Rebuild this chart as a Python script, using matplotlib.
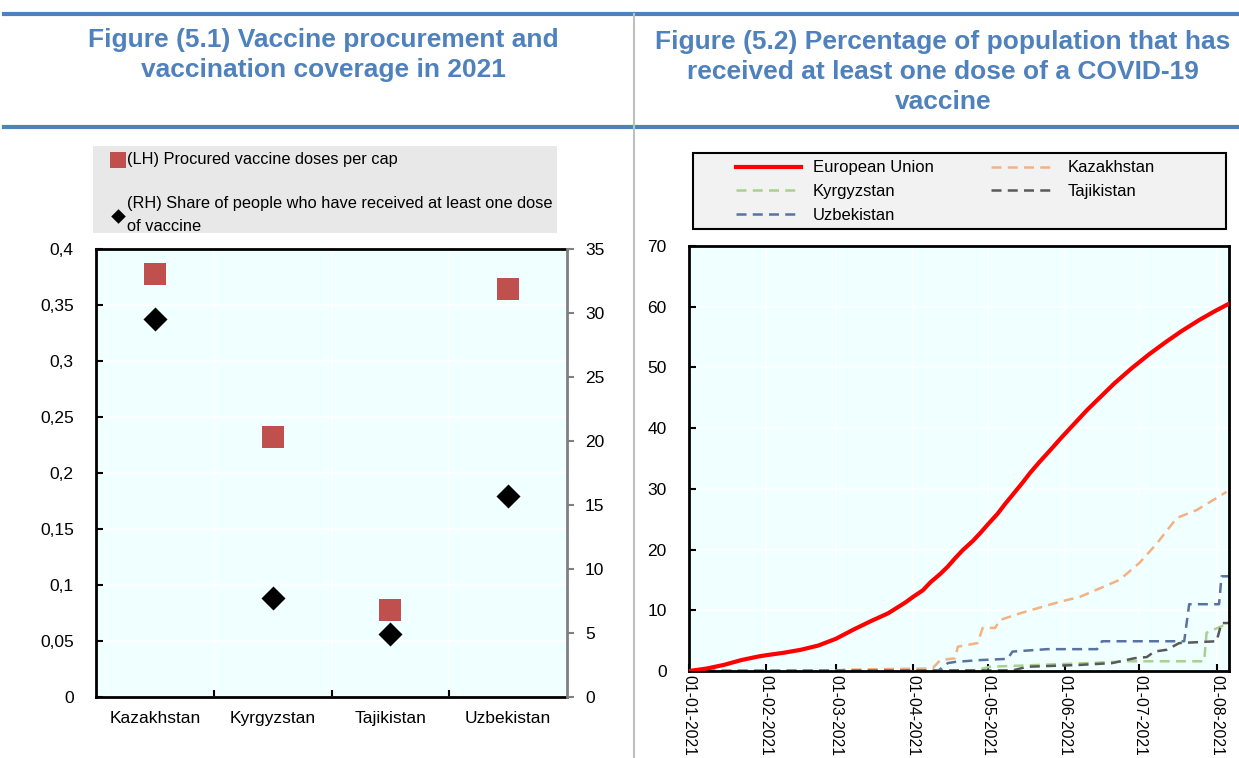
import matplotlib
matplotlib.use("Agg")
import matplotlib.pyplot as plt
import matplotlib.dates as mdates
from matplotlib.lines import Line2D
from matplotlib.patches import Rectangle
import numpy as np
import pandas as pd

# ---------------- data: Figure 5.1 ----------------
countries = ["Kazakhstan", "Kyrgyzstan", "Tajikistan", "Uzbekistan"]
doses_per_cap = [0.378, 0.232, 0.078, 0.364]          # left axis
share_one_dose = [29.5, 7.7, 4.9, 15.7]               # right axis
left_ticks = [0, 0.05, 0.1, 0.15, 0.2, 0.25, 0.3, 0.35, 0.4]
left_tick_labels = ["0", "0,05", "0,1", "0,15", "0,2", "0,25", "0,3", "0,35", "0,4"]
right_ticks = [0, 5, 10, 15, 20, 25, 30, 35]

# ---------------- data: Figure 5.2 (days since 01-01-2021, % of population) ----------------
eu_days = [0, 7, 14, 21, 28, 31, 38, 45, 52, 59, 66, 73, 80, 87, 90, 94, 97, 101, 104, 107, 110, 114,
           117, 120, 124, 127, 130, 134, 137, 141, 145, 150, 155, 160, 165, 171, 178, 185, 192, 198,
           205, 211, 217]
eu_vals = [0, 0.4, 1.0, 1.8, 2.4, 2.6, 3.0, 3.5, 4.2, 5.3, 6.8, 8.2, 9.5, 11.3, 12.2, 13.3, 14.6,
           16.0, 17.2, 18.6, 19.9, 21.4, 22.7, 24.1, 25.9, 27.5, 29.0, 31.0, 32.6, 34.5, 36.3, 38.6,
           40.8, 43.0, 45.0, 47.4, 49.9, 52.2, 54.3, 56.0, 57.8, 59.2, 60.5]

kaz_days = [0, 58, 62, 75, 95, 98, 101, 107, 108, 116, 118, 123, 125, 133, 149, 157, 173, 181, 188, 196, 204, 216]
kaz_vals = [0, 0, 0.2, 0.3, 0.4, 0.5, 1.8, 2.1, 4.0, 4.6, 7.1, 7.1, 8.4, 9.5, 11.4, 12.2, 15.0, 17.8, 21.0, 25.2, 26.5, 29.5]

kgz_days = [0, 115, 121, 160, 176, 207, 208, 217]
kgz_vals = [0, 0.1, 0.7, 1.3, 1.6, 1.6, 6.3, 7.9]

tjk_days = [0, 130, 136, 157, 170, 179, 184, 187, 192, 197, 212, 214, 217]
tjk_vals = [0, 0.1, 0.7, 1.0, 1.3, 2.1, 2.3, 3.2, 3.5, 4.6, 4.9, 7.9, 7.9]

uzb_days = [0, 100, 104, 107, 117, 128, 130, 144, 164, 166, 199, 201, 213, 214, 217]
uzb_vals = [0, 0, 1.3, 1.5, 1.8, 2.0, 3.2, 3.6, 3.6, 4.9, 4.9, 11.0, 11.0, 15.6, 15.6]

start = pd.Timestamp("2021-01-01")
def to_dates(days):
    return start + pd.to_timedelta(days, unit="D")

month_ticks = pd.date_range("2021-01-01", "2021-08-01", freq="MS")

# ---------------- figure ----------------
W, H = 1239, 758
fig = plt.figure(figsize=(W / 100, H / 100), dpi=100)
fig.patch.set_facecolor("white")

BLUE = "#4F81BD"
BG = "#F0FFFF"
FONT = ["Liberation Sans", "DejaVu Sans"]
plt.rcParams["font.family"] = FONT

def fx(px):
    return px / W

def fy(py):
    return 1 - py / H

# header lines and divider
fig.add_artist(Line2D([fx(4), 1], [fy(14), fy(14)], color=BLUE, lw=3, transform=fig.transFigure))
fig.add_artist(Line2D([fx(4), 1], [fy(127), fy(127)], color=BLUE, lw=3, transform=fig.transFigure))
fig.add_artist(Line2D([fx(634), fx(634)], [fy(14), 0], color="#BFBFBF", lw=1.5, transform=fig.transFigure))

fig.text(fx(323), fy(55), "Figure (5.1) Vaccine procurement and\nvaccination coverage in 2021",
         ha="center", va="center", color=BLUE, fontsize=19, fontweight="bold", linespacing=1.33)
fig.text(fx(943), fy(72), "Figure (5.2) Percentage of population that has\nreceived at least one dose of a COVID-19\nvaccine",
         ha="center", va="center", color=BLUE, fontsize=19, fontweight="bold", linespacing=1.33)

TICK_FS = 12.5

# ---------------- left chart ----------------
axL = fig.add_axes([fx(96), fy(697), fx(567) - fx(96), fy(249) - fy(697)])
axL.set_facecolor(BG)
x = np.arange(len(countries))
axL.set_xlim(-0.5, len(countries) - 0.5)
axL.set_ylim(0, 0.4)
axL.set_yticks(left_ticks)
axL.set_yticklabels(left_tick_labels)
axL.set_xticks(x)
axL.set_xticklabels(countries)
axL.set_xticks(x[:-1] + 0.5, minor=True)
axL.tick_params(axis="x", which="major", length=0, labelsize=TICK_FS, pad=10)
axL.tick_params(axis="x", which="minor", length=5, width=1.5, direction="in", color="black")
axL.tick_params(axis="y", which="major", length=5, width=1.5, direction="in", labelsize=TICK_FS, pad=16)
axL.grid(True, axis="y", color="white", lw=1.2)
axL.grid(True, axis="x", which="minor", color="white", lw=1.2)
axL.set_axisbelow(True)
for s in ["left", "bottom", "top"]:
    axL.spines[s].set_color("black")
    axL.spines[s].set_linewidth(2)
axL.spines["right"].set_visible(False)

axR = axL.twinx()
axR.set_ylim(0, 35)
axR.set_yticks(right_ticks)
axR.tick_params(axis="y", length=5, width=1.5, direction="out", color="#808080", labelsize=TICK_FS, pad=8)
for s in ["left", "bottom", "top"]:
    axR.spines[s].set_visible(False)
axR.spines["right"].set_color("#808080")
axR.spines["right"].set_linewidth(2)

hsq = axL.scatter(x, doses_per_cap, marker="s", s=230, color="#C0504D", zorder=3, linewidths=0,
                  label="(LH) Procured vaccine doses per cap")
hdm = axR.scatter(x, share_one_dose, marker="D", s=150, color="black", zorder=3, linewidths=0,
                  label="(RH) Share of people who have received at least one dose\nof vaccine")

fig.add_artist(Rectangle((fx(93), fy(233)), fx(557) - fx(93), fy(146) - fy(233),
                         facecolor="#E8E8E8", edgecolor="none", transform=fig.transFigure, zorder=0))
legL = fig.legend(handles=[hsq, hdm], loc="upper left", bbox_to_anchor=(fx(97), fy(139)),
                  frameon=False, fontsize=11.8, handletextpad=0.05, handlelength=1.0,
                  labelspacing=1.75, borderpad=0.3, scatterpoints=1)
legL.legend_handles[0].set_sizes([140])
legL.legend_handles[1].set_sizes([55])
for t in legL.get_texts():
    t.set_linespacing(1.65)

# ---------------- right chart ----------------
ax2 = fig.add_axes([fx(689), fy(671), fx(1229) - fx(689), fy(246) - fy(671)])
ax2.set_facecolor(BG)
l_eu, = ax2.plot(to_dates(eu_days), eu_vals, color="#FF0000", lw=3, label="European Union", zorder=5)
l_kaz, = ax2.plot(to_dates(kaz_days), kaz_vals, color="#F4B183", lw=1.8, ls=(0, (4, 2.5)), label="Kazakhstan")
l_kgz, = ax2.plot(to_dates(kgz_days), kgz_vals, color="#A9D18E", lw=1.8, ls=(0, (4, 2.5)), label="Kyrgyzstan")
l_tjk, = ax2.plot(to_dates(tjk_days), tjk_vals, color="#595959", lw=1.8, ls=(0, (4, 2.5)), label="Tajikistan")
l_uzb, = ax2.plot(to_dates(uzb_days), uzb_vals, color="#5A72A0", lw=1.8, ls=(0, (4, 2.5)), label="Uzbekistan")

ax2.set_ylim(0, 70)
ax2.set_yticks(np.arange(0, 71, 10))
ax2.set_xlim(to_dates([0])[0], to_dates([217])[0])
ax2.set_xticks(month_ticks)
ax2.xaxis.set_major_formatter(mdates.DateFormatter("%d-%m-%Y"))
ax2.tick_params(axis="x", length=5, width=1.5, direction="in", labelsize=11.3, rotation=270, pad=3)
ax2.tick_params(axis="y", length=5, width=1.5, direction="in", labelsize=TICK_FS, pad=16)
for lab in ax2.get_xticklabels():
    lab.set_va("top")
    lab.set_ha("center")
ax2.grid(True, color="white", lw=1.2)
ax2.set_axisbelow(True)
for s in ax2.spines.values():
    s.set_color("black")
    s.set_linewidth(2)

fig.add_artist(Rectangle((fx(693), fy(229)), fx(1226) - fx(693), fy(153) - fy(229),
                         facecolor="#F2F2F2", edgecolor="black", lw=1.5, transform=fig.transFigure, zorder=0))
leg2 = fig.legend(handles=[l_eu, l_kgz, l_uzb, l_kaz, l_tjk], ncol=2, loc="upper left",
                  bbox_to_anchor=(fx(723), fy(147)), frameon=False, fontsize=12,
                  handlelength=3.9, handletextpad=0.7, columnspacing=3.4, labelspacing=0.52,
                  borderpad=0.3)

fig.savefig("out.png", dpi=100)
